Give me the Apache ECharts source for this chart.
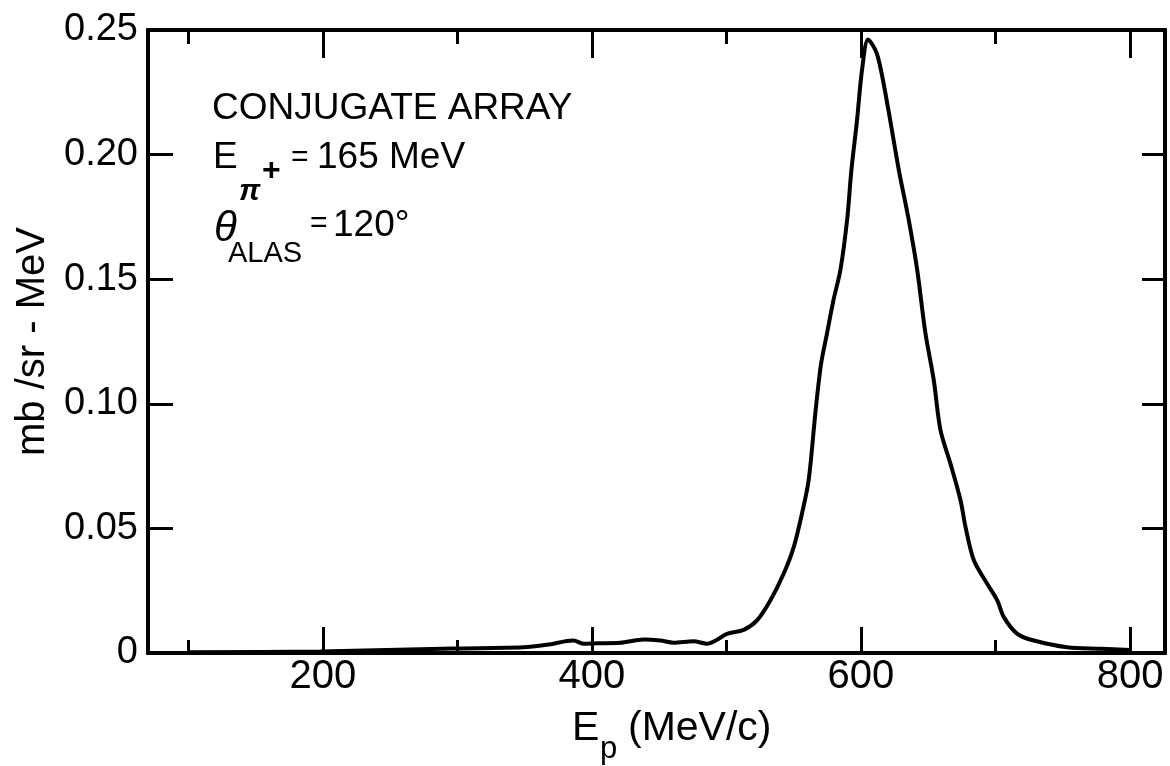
<!DOCTYPE html>
<html>
<head>
<meta charset="utf-8">
<script src="https://cdn.jsdelivr.net/npm/echarts@6/dist/echarts.min.js"></script>
<style>
  html, body { margin: 0; padding: 0; background: #ffffff; }
  #chart { width: 1170px; height: 766px; }
</style>
</head>
<body>
<div id="chart"></div>
<script>
// ---- data ----
const energy = [100, 198, 297, 349, 366.5, 386.3, 393.7, 403.7, 421, 438.4, 450.8, 460.7, 475.6, 485.5, 493,
  500.4, 512.8, 522.7, 532.6, 542.5, 550, 556.2, 561.1, 566.1, 570.2, 574.8, 579.5, 584.7, 589.7, 592.9,
  597.1, 600.8, 605.3, 612, 619.4, 628.1, 635.5, 641.8, 647.9, 654.1, 659.1, 666.5, 674, 677.7, 683.9,
  693.8, 701.3, 706.2, 716.2, 728.5, 753.3, 778.1, 800];
const crossSection = [0.0003, 0.0006, 0.0018, 0.0023, 0.0033, 0.0050, 0.0037, 0.0039, 0.0041, 0.0054, 0.0050, 0.0041, 0.0047, 0.0037, 0.0053,
  0.0077, 0.0093, 0.0131, 0.0211, 0.0318, 0.0425, 0.0561, 0.0693, 0.0963, 0.1156, 0.1284, 0.1415, 0.1537, 0.1738, 0.1939,
  0.2140, 0.2341, 0.2462, 0.2402, 0.2209, 0.1939, 0.1738, 0.1537, 0.1284, 0.1095, 0.0894, 0.0760, 0.0613, 0.0506, 0.0372,
  0.0278, 0.0211, 0.0144, 0.0077, 0.0050, 0.0023, 0.0017, 0.0012];
const xMajorTicks = [200, 400, 600, 800];
const xMinorTicks = [100, 300, 500, 700];
const yTicks = [0, 0.05, 0.10, 0.15, 0.20, 0.25];
const xRange = [70, 826];
const yRange = [0, 0.25];
const yAxisTitle = 'mb /sr - MeV';
const annotationTitle = 'CONJUGATE ARRAY';

// ---- chart ----
const FONT = 'Liberation Sans, Arial, sans-serif';
const chart = echarts.init(document.getElementById('chart'), null, { renderer: 'canvas' });
const points = energy.map((e, i) => [e, crossSection[i]]);

function xAxisDef(pos, ticks, len, labels) {
  return {
    type: 'value', position: pos, min: xRange[0], max: xRange[1],
    axisLine: { show: true, onZero: false, lineStyle: { color: '#000', width: 4 } },
    axisTick: { show: true, inside: true, length: len, customValues: ticks, lineStyle: { color: '#000', width: 3 } },
    axisLabel: labels ? { show: true, customValues: ticks, color: '#000', fontSize: 40, fontFamily: FONT, margin: 4 } : { show: false },
    splitLine: { show: false }
  };
}

const option = {
  animation: false,
  backgroundColor: '#ffffff',
  grid: { left: 148, right: 5, top: 30, bottom: 113, containLabel: false },
  xAxis: [
    xAxisDef('bottom', xMajorTicks, 26, true),
    xAxisDef('bottom', xMinorTicks, 13, false),
    xAxisDef('top', xMajorTicks, 28, false),
    xAxisDef('top', xMinorTicks, 14, false)
  ],
  yAxis: [
    {
      type: 'value', position: 'left', min: yRange[0], max: yRange[1], interval: 0.05,
      name: yAxisTitle, nameLocation: 'middle', nameGap: 94,
      nameTextStyle: { color: '#000', fontSize: 40, fontFamily: FONT },
      axisLine: { show: true, lineStyle: { color: '#000', width: 4 } },
      axisTick: { show: true, inside: true, length: 25, customValues: yTicks, lineStyle: { color: '#000', width: 3 } },
      axisLabel: { show: true, customValues: yTicks, color: '#000', fontSize: 38, fontFamily: FONT, margin: 10,
        formatter: v => (v === 0 ? '0' : v.toFixed(2)) },
      splitLine: { show: false }
    },
    {
      type: 'value', position: 'right', min: yRange[0], max: yRange[1], interval: 0.05,
      axisLine: { show: true, lineStyle: { color: '#000', width: 4 } },
      axisTick: { show: true, inside: true, length: 23, customValues: yTicks, lineStyle: { color: '#000', width: 3 } },
      axisLabel: { show: false },
      splitLine: { show: false }
    }
  ],
  series: [{
    type: 'line', xAxisIndex: 0, yAxisIndex: 0, data: points,
    showSymbol: false, smooth: 0.3,
    lineStyle: { color: '#000', width: 4 }
  }],
  graphic: [
    { type: 'text', x: 212, y: 109, style: { text: annotationTitle, font: '37px ' + FONT, fill: '#000', textVerticalAlign: 'middle' } },
    { type: 'text', x: 213, y: 158, style: { text: 'E', font: '37px ' + FONT, fill: '#000', textVerticalAlign: 'middle' } },
    { type: 'text', x: 239, y: 192, style: { text: 'π', font: 'italic bold 30px ' + FONT, fill: '#000', textVerticalAlign: 'middle' } },
    { type: 'text', x: 262, y: 171, style: { text: '+', font: 'bold 32px ' + FONT, fill: '#000', textVerticalAlign: 'middle' } },
    { type: 'text', x: 291, y: 158, style: { text: '=', font: '30px ' + FONT, fill: '#000', textVerticalAlign: 'middle' } },
    { type: 'text', x: 317, y: 158, style: { text: '165 MeV', font: '37px ' + FONT, fill: '#000', textVerticalAlign: 'middle' } },
    { type: 'text', x: 214, y: 229, style: { text: 'θ', font: 'italic 42px ' + FONT, fill: '#000', textVerticalAlign: 'middle' } },
    { type: 'text', x: 228, y: 254, style: { text: 'ALAS', font: '29px ' + FONT, fill: '#000', textVerticalAlign: 'middle' } },
    { type: 'text', x: 310, y: 224, style: { text: '=', font: '30px ' + FONT, fill: '#000', textVerticalAlign: 'middle' } },
    { type: 'text', x: 333, y: 226, style: { text: '120°', font: '37px ' + FONT, fill: '#000', textVerticalAlign: 'middle' } },
    { type: 'text', x: 572, y: 729, style: { text: 'E', font: '41px ' + FONT, fill: '#000', textVerticalAlign: 'middle' } },
    { type: 'text', x: 600, y: 749, style: { text: 'p', font: '31px ' + FONT, fill: '#000', textVerticalAlign: 'middle' } },
    { type: 'text', x: 628, y: 729, style: { text: '(MeV/c)', font: '41px ' + FONT, fill: '#000', textVerticalAlign: 'middle' } }
  ]
};
chart.setOption(option);
</script>
</body>
</html>
